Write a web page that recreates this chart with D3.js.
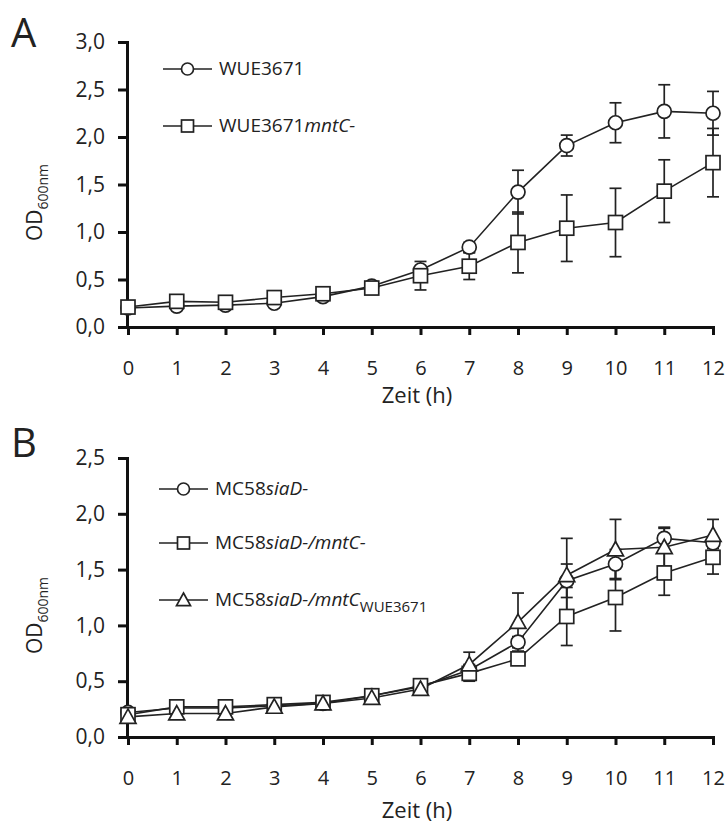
<!DOCTYPE html>
<html lang="de">
<head>
<meta charset="utf-8">
<script src="https://d3js.org/d3.v7.min.js"></script>
<style>
  body { margin: 0; background: #fff; }
  text { font-family: "Open Sans", "DejaVu Sans", sans-serif; fill: #222; }
</style>
</head>
<body>
<script>
// hours on the x axis
var hours = [0, 1, 2, 3, 4, 5, 6, 7, 8, 9, 10, 11, 12];

// Panel A
var wueMean   = [0.20, 0.22, 0.23, 0.25, 0.32, 0.43, 0.60, 0.84, 1.42, 1.91, 2.15, 2.27, 2.25];
var wueSd     = [0.02, 0.02, 0.02, 0.02, 0.02, 0.03, 0.03, 0.05, 0.23, 0.11, 0.21, 0.28, 0.23];
var mntcMean  = [0.21, 0.27, 0.26, 0.31, 0.35, 0.41, 0.54, 0.64, 0.89, 1.04, 1.10, 1.43, 1.73];
var mntcSd    = [0.02, 0.02, 0.02, 0.02, 0.02, 0.05, 0.15, 0.14, 0.32, 0.35, 0.36, 0.33, 0.36];

// Panel B
var siaMean   = [0.22, 0.26, 0.26, 0.28, 0.30, 0.37, 0.45, 0.60, 0.85, 1.40, 1.55, 1.78, 1.74];
var siaSd     = [0.02, 0.02, 0.02, 0.02, 0.02, 0.02, 0.03, 0.05, 0.05, 0.15, 0.13, 0.10, 0.05];
var siaMntMean = [0.20, 0.27, 0.27, 0.29, 0.31, 0.37, 0.46, 0.57, 0.70, 1.08, 1.25, 1.47, 1.61];
var siaMntSd  = [0.02, 0.02, 0.02, 0.02, 0.02, 0.02, 0.05, 0.07, 0.05, 0.26, 0.30, 0.20, 0.15];
var compMean  = [0.18, 0.21, 0.21, 0.27, 0.30, 0.35, 0.43, 0.65, 1.03, 1.45, 1.68, 1.70, 1.81];
var compSd    = [0.02, 0.02, 0.02, 0.02, 0.02, 0.02, 0.03, 0.11, 0.26, 0.33, 0.27, 0.17, 0.14];

var yTicksA = [0, 0.5, 1, 1.5, 2, 2.5, 3];
var yTicksB = [0, 0.5, 1, 1.5, 2, 2.5];

var svg = d3.select("body").append("svg")
    .attr("width", 727)
    .attr("height", 825);

var fmt = function(d) { return d3.format(".1f")(d).replace(".", ","); };

var panelA = {
  letter: "A", letterY: 47, top: 42, bottom: 327, yMax: 3, yTicks: yTicksA,
  titleOffset: 76,
  legendX: 163, legendY: [69, 126],
  series: [
    {mean: wueMean, sd: wueSd, shape: "circle", label: [["WUE3671", ""]]},
    {mean: mntcMean, sd: mntcSd, shape: "square", label: [["WUE3671", ""], ["mntC-", "i"]]}
  ]
};

var panelB = {
  letter: "B", letterY: 457, top: 458, bottom: 737, yMax: 2.5, yTicks: yTicksB,
  titleOffset: 81,
  legendX: 159, legendY: [489, 543, 600],
  series: [
    {mean: siaMean, sd: siaSd, shape: "circle", label: [["MC58", ""], ["siaD-", "i"]]},
    {mean: siaMntMean, sd: siaMntSd, shape: "square", label: [["MC58", ""], ["siaD-/mntC-", "i"]]},
    {mean: compMean, sd: compSd, shape: "triangle", label: [["MC58", ""], ["siaD-/mntC", "i"], ["WUE3671", "sub"]]}
  ]
};

function drawMarker(g, shape, cx, cy, size) {
  var h = size / 2;
  if (shape === "circle") {
    g.append("circle").attr("cx", cx).attr("cy", cy).attr("r", h)
      .attr("fill", "#fff").attr("stroke", "#222").attr("stroke-width", 1.7);
  } else if (shape === "square") {
    g.append("rect").attr("x", cx - h).attr("y", cy - h)
      .attr("width", size).attr("height", size)
      .attr("fill", "#fff").attr("stroke", "#222").attr("stroke-width", 1.7);
  } else {
    var s = h + 1;
    g.append("path")
      .attr("d", "M" + cx + "," + (cy - s) + "L" + (cx + s) + "," + (cy + s * 0.8) + "L" + (cx - s) + "," + (cy + s * 0.8) + "Z")
      .attr("fill", "#fff").attr("stroke", "#222").attr("stroke-width", 1.7);
  }
}

function drawPanel(cfg) {
  var x = d3.scaleLinear().domain([0, 12]).range([128, 713]);
  var y = d3.scaleLinear().domain([0, cfg.yMax]).range([cfg.bottom, cfg.top]);

  var g = svg.append("g");

  // panel letter
  svg.append("text")
    .attr("x", 11).attr("y", cfg.letterY)
    .style("font-size", "40px")
    .text(cfg.letter);

  // y axis
  var yAxis = g.append("g")
    .attr("transform", "translate(127,0)")
    .call(d3.axisLeft(y).tickValues(cfg.yTicks).tickFormat(fmt).tickSize(9).tickPadding(13));
  yAxis.select(".domain").attr("stroke", "#111").attr("stroke-width", 3);
  yAxis.selectAll(".tick line").attr("stroke", "#111").attr("stroke-width", 3);
  yAxis.selectAll(".tick text").style("font-size", "21px").attr("fill", "#222");

  // x axis
  var xAxis = g.append("g")
    .attr("transform", "translate(0," + cfg.bottom + ")")
    .call(d3.axisBottom(x).tickValues(hours).tickSize(8));
  xAxis.select(".domain").attr("stroke", "#111").attr("stroke-width", 3);
  xAxis.selectAll(".tick line").attr("stroke", "#111").attr("stroke-width", 3);
  xAxis.selectAll(".tick text").style("font-size", "20px").attr("fill", "#222")
    .attr("y", 48).attr("dy", null);

  // axis titles
  svg.append("text")
    .attr("x", 417).attr("y", cfg.bottom + cfg.titleOffset)
    .attr("text-anchor", "middle")
    .style("font-size", "22px")
    .text("Zeit (h)");

  var yt = svg.append("text")
    .attr("transform", "translate(42," + ((cfg.top + cfg.bottom) / 2 + 18) + ") rotate(-90)")
    .attr("text-anchor", "middle")
    .style("font-size", "21px");
  yt.append("tspan").text("OD");
  yt.append("tspan").attr("dy", 6).style("font-size", "14px").text("600nm");

  var line = d3.line()
    .x(function(d, i) { return x(hours[i]); })
    .y(function(d) { return y(d); });

  // error bars
  cfg.series.forEach(function(s) {
    var eb = g.append("g").attr("stroke", "#222").attr("stroke-width", 1.7);
    s.mean.forEach(function(m, i) {
      var cx = x(hours[i]), hi = y(m + s.sd[i]), lo = y(m - s.sd[i]);
      eb.append("line").attr("x1", cx).attr("x2", cx).attr("y1", hi).attr("y2", lo);
      eb.append("line").attr("x1", cx - 6).attr("x2", cx + 6).attr("y1", hi).attr("y2", hi);
      eb.append("line").attr("x1", cx - 6).attr("x2", cx + 6).attr("y1", lo).attr("y2", lo);
    });
  });

  // lines
  cfg.series.forEach(function(s) {
    g.append("path").datum(s.mean)
      .attr("d", line)
      .attr("fill", "none")
      .attr("stroke", "#222")
      .attr("stroke-width", 1.6);
  });

  // markers
  cfg.series.forEach(function(s) {
    var mg = g.append("g");
    s.mean.forEach(function(m, i) { drawMarker(mg, s.shape, x(hours[i]), y(m), 14); });
  });

  // legend
  cfg.series.forEach(function(s, k) {
    var ly = cfg.legendY[k], lx = cfg.legendX;
    var lg = svg.append("g");
    lg.append("line").attr("x1", lx).attr("x2", lx + 49).attr("y1", ly).attr("y2", ly)
      .attr("stroke", "#222").attr("stroke-width", 1.7);
    drawMarker(lg, s.shape, lx + 24.5, ly, 12);
    var t = lg.append("text").attr("x", lx + 56).attr("y", ly + 6).style("font-size", "19px");
    s.label.forEach(function(p) {
      var ts = t.append("tspan").text(p[0]);
      if (p[1] === "i") ts.style("font-style", "italic");
      if (p[1] === "sub") ts.attr("dy", 6).style("font-size", "15px");
    });
  });
}

drawPanel(panelA);
drawPanel(panelB);
</script>
</body>
</html>
